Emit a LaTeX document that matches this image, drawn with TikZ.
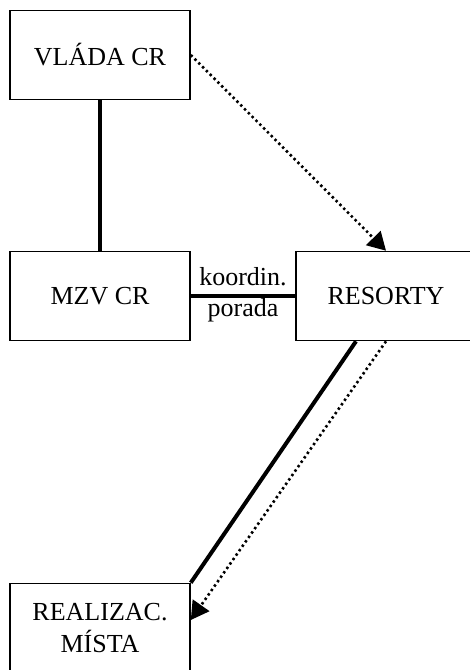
\documentclass[tikz,border=0pt]{standalone}
\usepackage{fontspec}
\setmainfont{Liberation Serif}
\usetikzlibrary{arrows.meta}
\newcommand\bigfont{\fontsize{26}{32}\selectfont}
\tikzset{
  box/.style={draw, line width=1.6pt, minimum width=180pt, minimum height=89pt, inner sep=0pt, font=\bigfont, align=center},
  thickline/.style={line width=4pt},
  dotline/.style={line width=2.6pt, dash pattern=on 2.4pt off 3pt, -{Triangle[length=18pt,width=20pt]}},
  lbl/.style={font=\bigfont, inner sep=0pt, anchor=base}
}
\begin{document}
\begin{tikzpicture}[x=1pt,y=-1pt]
    \useasboundingbox (0,0) rectangle (470,670);
    \node[box] (vlada) at (100,55) {VLÁDA CR};
    \node[box] (mzv) at (100,296) {MZV CR};
    \node[box] (resorty) at (386,296) {RESORTY};
    \node[box] (realiz) at (100,628) {REALIZAC.\\MÍSTA};
    \draw[thickline] (vlada.south) -- (mzv.north);
    \draw[thickline] (mzv.east) -- (resorty.west);
    \node[lbl] (koord) at (243,285) {koordin.};
    \node[lbl] (porada) at (243,316) {porada};
    \draw[dotline] (vlada.east) -- (resorty.north);
    \draw[thickline] ([xshift=-30pt]resorty.south) -- (realiz.north east);
    \draw[dotline] (resorty.south) -- ([yshift=8pt]realiz.east);
\end{tikzpicture}
\end{document}
